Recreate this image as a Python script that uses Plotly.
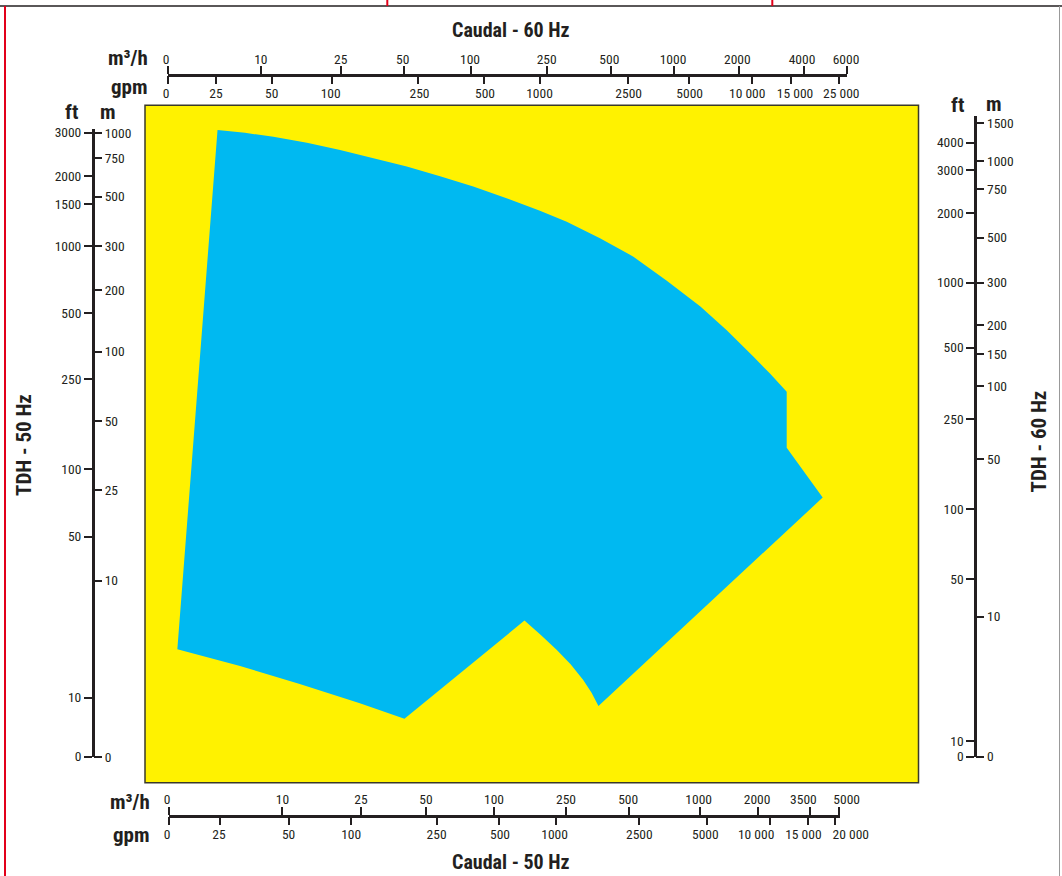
import numpy as np
import plotly.graph_objects as go

W, H = 1062, 876

# ---------------- data ----------------
# Operating envelope (50 Hz): flow in m3/h and head in m
ENV_Q_M3H = [1.8, 4.0, 8.1, 13.4, 19.7, 28.6, 40.8, 57.8, 81.3, 118, 180, 252, 363, 521, 721,
             1000, 1379, 1900, 2277, 2720,
             2720, 4070, 357, 331, 302, 263, 222, 182, 148, 39.8, 24.7, 12.3, 3.5, 0.2]
ENV_H_M = [1040, 1005, 961, 896, 825, 753, 687, 621, 557, 492, 432, 386, 325, 272, 218,
           166, 127, 95, 80.4, 67,
           38.3, 23.2, 1.0, 1.40, 1.85, 2.53, 3.3, 4.26, 5.4, 0.68, 1.08, 1.70, 2.45, 3.33]

# Tick values of the scales
Q60_M3H = [0, 10, 25, 50, 100, 250, 500, 1000, 2000, 4000, 6000]
Q60_GPM = [0, 25, 50, 100, 250, 500, 1000, 2500, 5000, 10000, 15000, 25000]
Q50_M3H = [0, 10, 25, 50, 100, 250, 500, 1000, 2000, 3500, 5000]
Q50_GPM = [0, 25, 50, 100, 250, 500, 1000, 2500, 5000, 10000, 15000, 20000]
H50_FT = [0, 10, 50, 100, 250, 500, 1000, 1500, 2000, 3000]
H50_M = [0, 10, 25, 50, 100, 200, 300, 500, 750, 1000]
H60_FT = [0, 10, 50, 100, 250, 500, 1000, 2000, 3000, 4000]
H60_M = [0, 10, 50, 100, 150, 200, 300, 500, 750, 1000, 1500]

# ---------------- layout of the hand-drawn scales (pixel positions) ----------------
POS = {
    "q60_m3h": [167.7, 261.3, 340.7, 404, 471.3, 547, 610.7, 674.3, 738.7, 804, 846.7],
    "q60_gpm": [167.7, 216.3, 271.7, 332, 418.3, 483.7, 540, 628.3, 688.7, 752, 790.7, 839.3],
    "q50_m3h": [168.7, 282.4, 360.9, 426, 493.5, 566, 629.2, 700.4, 757.8, 810.4, 839.4],
    "q50_gpm": [168.7, 220.4, 288.6, 351.2, 437.3, 499.3, 555.6, 638.6, 706.7, 769.6, 807.6, 835.2],
    "h50_ft": [756.7, 697.7, 536.7, 469.3, 379.3, 313.3, 246, 204, 176, 132.7],
    "h50_m": [757, 580.7, 490, 421, 351.7, 290, 246, 196.7, 158.3, 133.3],
    "h60_ft": [756.7, 741, 579.3, 509, 419.3, 347.7, 282.7, 213.3, 170, 142.7],
    "h60_m": [756.7, 616.7, 459, 386, 354.3, 325, 282.7, 237.7, 189.3, 161, 123.3],
}
# label centres of the horizontal scales (the drawing nudges some labels off their ticks)
LABEL_POS = {
    "q60_m3h": [166, 260.8, 340.7, 402.7, 470, 546.7, 609.3, 673, 737.3, 802, 846],
    "q60_gpm": [166, 216, 271.7, 330.7, 419.5, 485, 539.5, 628.7, 689.7, 747.2, 795, 841.3],
    "q50_m3h": [167, 282.4, 360.9, 426, 494, 566, 628.2, 698.7, 757.1, 803.4, 846.7],
    "q50_gpm": [167, 219, 288.6, 351.2, 436.6, 500, 554.6, 639.3, 705.3, 756.1, 803.4, 850.8],
}

INK = "#231F20"
RED = "#E2001A"
YELLOW = "#FFF200"
BLUE = "#00B9F1"
NARROW = "Liberation Sans Narrow, Arial Narrow, Roboto Condensed, DejaVu Sans Condensed, sans-serif"


def scale(values, ticks, pos):
    """Hand-drawn pseudo-log scale: piecewise linear in log10(v+1) between ticks."""
    g = np.log10(np.asarray(values, float) + 1.0)
    gt = np.log10(np.asarray(ticks, float) + 1.0)
    p = np.asarray(pos, float)
    out = np.interp(g, gt, p)
    hi = g > gt[-1]
    out[hi] = p[-1] + (g[hi] - gt[-1]) * (p[-1] - p[-2]) / (gt[-1] - gt[-2])
    lo = g < gt[0]
    out[lo] = p[0] + (g[lo] - gt[0]) * (p[1] - p[0]) / (gt[1] - gt[0])
    return out


def lab(v):
    return f"{v:,}".replace(",", " ") if v >= 10000 else str(v)


fig = go.Figure()

# envelope polygon on pixel-based base axes
px = scale(ENV_Q_M3H, Q50_M3H, POS["q50_m3h"])
py = scale(ENV_H_M, H50_M, POS["h50_m"])
fig.add_trace(go.Scatter(x=px, y=py, fill="toself", fillcolor=BLUE, mode="lines",
                         line=dict(width=0, color=BLUE), hoverinfo="skip", showlegend=False))

tickfont = dict(family=NARROW, size=13.5, color=INK)
CLEAR = "rgba(0,0,0,0)"


def xaxis_ticks(key, yline, x0, x1, side, showline):
    return dict(domain=[x0 / W, x1 / W], range=[x0, x1], anchor="free", position=1 - yline / H,
                side=side, tickmode="array", tickvals=POS[key], showticklabels=False,
                ticks="outside", ticklen=8, tickwidth=2, tickcolor=INK, showline=showline,
                linewidth=3, linecolor=INK, showgrid=False, zeroline=False,
                fixedrange=True, automargin=False)


def xaxis_labels(vals, key, yline, side, standoff):
    return dict(domain=[140 / W, 900 / W], range=[140, 900], anchor="free", position=1 - yline / H,
                side=side, tickmode="array", tickvals=LABEL_POS[key], ticktext=[lab(v) for v in vals],
                ticks="outside", ticklen=8, tickwidth=1, tickcolor=CLEAR, showline=False,
                showgrid=False, zeroline=False, tickfont=tickfont, tickangle=0,
                ticklabelstandoff=standoff, fixedrange=True, automargin=False)


def yaxis_def(vals, key, xline, y0, y1, side, showline):
    return dict(domain=[1 - y0 / H, 1 - y1 / H], range=[y0, y1], anchor="free", position=xline / W,
                side=side, tickmode="array", tickvals=POS[key], ticktext=[lab(v) for v in vals],
                ticks="outside", ticklen=8, tickwidth=2, tickcolor=INK, showline=showline,
                linewidth=3, linecolor=INK, showgrid=False, zeroline=False, tickfont=tickfont,
                tickangle=0, fixedrange=True, automargin=False)


axes = {
    "xaxis2": xaxis_ticks("q60_m3h", 75, 167.7, 846.7, "top", True),
    "xaxis3": xaxis_ticks("q60_gpm", 75, 167.7, 846.7, "bottom", False),
    "xaxis4": xaxis_ticks("q50_m3h", 815.5, 168.7, 840, "top", True),
    "xaxis5": xaxis_ticks("q50_gpm", 815.5, 168.7, 840, "bottom", False),
    "xaxis6": xaxis_labels(Q60_M3H, "q60_m3h", 75, "top", -2),
    "xaxis7": xaxis_labels(Q60_GPM, "q60_gpm", 75, "bottom", -2),
    "xaxis8": xaxis_labels(Q50_M3H, "q50_m3h", 815.5, "top", -2),
    "xaxis9": xaxis_labels(Q50_GPM, "q50_gpm", 815.5, "bottom", -2),
    "yaxis2": yaxis_def(H50_FT, "h50_ft", 93, 757, 129.3, "left", True),
    "yaxis3": yaxis_def(H50_M, "h50_m", 93, 757, 129.3, "right", False),
    "yaxis4": yaxis_def(H60_FT, "h60_ft", 975.3, 757, 116, "left", True),
    "yaxis5": yaxis_def(H60_M, "h60_m", 975.3, 757, 116, "right", False),
}

# invisible anchor traces so every scale is drawn
for k, ax in axes.items():
    if k.startswith("x"):
        fig.add_trace(go.Scatter(x=[ax["range"][0]], y=[H / 2], xaxis="x" + k[5:], yaxis="y",
                                 mode="markers", marker=dict(opacity=0), hoverinfo="skip",
                                 showlegend=False))
    else:
        fig.add_trace(go.Scatter(x=[W / 2], y=[ax["range"][0]], xaxis="x", yaxis="y" + k[5:],
                                 mode="markers", marker=dict(opacity=0), hoverinfo="skip",
                                 showlegend=False))


def P(x, y):
    return x / W, 1 - y / H


shapes = []
# yellow field
x0, y0 = P(145, 782.7)
x1, y1 = P(918.5, 105.3)
shapes.append(dict(type="rect", xref="paper", yref="paper", x0=x0, y0=y0, x1=x1, y1=y1,
                   fillcolor=YELLOW, line=dict(color="#3a3a2a", width=1.5), layer="below"))
# page frame
shapes.append(dict(type="line", xref="paper", yref="paper", x0=0, x1=1, y0=1 - 6 / H, y1=1 - 6 / H,
                   line=dict(color=INK, width=1.5)))
for xr in (387.3, 772.3):
    shapes.append(dict(type="line", xref="paper", yref="paper", x0=xr / W, x1=xr / W,
                       y0=1, y1=1 - 6 / H, line=dict(color=RED, width=2)))
shapes.append(dict(type="line", xref="paper", yref="paper", x0=5 / W, x1=5 / W, y0=0, y1=1 - 6 / H,
                   line=dict(color=RED, width=2)))
shapes.append(dict(type="line", xref="paper", yref="paper", x0=1059.5 / W, x1=1059.5 / W, y0=0,
                   y1=1 - 6 / H, line=dict(color="#999999", width=1)))

annotations = []


def note(text, x, y, xanchor="center", angle=0, size=21):
    ax_, ay_ = P(x, y)
    annotations.append(dict(text="<b>" + text + "</b>", x=ax_, y=ay_, xref="paper", yref="paper",
                            xanchor=xanchor, yanchor="middle", showarrow=False, textangle=angle,
                            font=dict(family=NARROW, size=size, color=INK)))


note("Caudal - 60 Hz", 510.8, 30, size=20)
note("Caudal - 50 Hz", 511, 861.5, size=20)
note("m³/h", 149.5, 58, "right")
note("gpm", 149.5, 87.5, "right")
note("m³/h", 151.5, 802, "right")
note("gpm", 151.5, 835, "right")
note("ft", 71.7, 112)
note("m", 108, 112)
note("ft", 957.5, 105)
note("m", 994, 104)
note("TDH - 50 Hz", 24, 445, angle=-90)
note("TDH - 60 Hz", 1038, 441.5, angle=-90)

fig.update_layout(
    template="none",
    width=W, height=H, margin=dict(l=0, r=0, t=0, b=0),
    paper_bgcolor="white", plot_bgcolor="rgba(0,0,0,0)",
    showlegend=False,
    xaxis=dict(domain=[0, 1], range=[0, W], visible=False, fixedrange=True),
    yaxis=dict(domain=[0, 1], range=[H, 0], visible=False, fixedrange=True),
    shapes=shapes, annotations=annotations,
    **axes,
)

fig.write_html("out.html", config={"displayModeBar": False, "staticPlot": True},
               post_script="document.body.style.margin='0';document.body.style.overflow='hidden';")
